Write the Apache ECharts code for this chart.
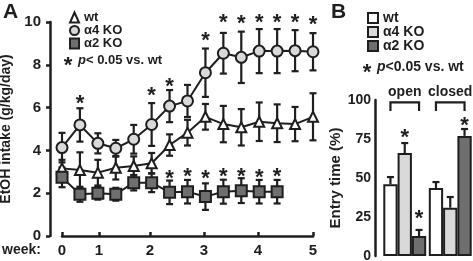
<!DOCTYPE html>
<html>
<head>
<meta charset="utf-8">
<script src="https://cdn.jsdelivr.net/npm/echarts@6/dist/echarts.min.js"></script>
<style>
  html, body { margin: 0; padding: 0; background: #fff; }
  #chart { width: 473px; height: 261px; }
</style>
</head>
<body>
<div id="chart"></div>
<script>
// panel A: sample index along x (0..14), week ticks sit at uneven index positions
const weekTickPos = [0, 2.06, 4.91, 7.92, 10.93, 14]
const weekLabels = ['0', '1', '2', '3', '4', '5']

const wtMean = [3.16, 3.08, 2.96, 3.19, 3.27, 3.40, 4.25, 4.83, 5.57, 5.23, 5.08, 5.34, 5.27, 5.23, 5.57]
const wtErr = [0.4, 0.83, 0.6, 0.55, 0.45, 0.48, 0.5, 0.6, 0.6, 0.85, 0.85, 0.9, 0.88, 0.8, 1.1]
const a4Mean = [4.13, 5.19, 4.33, 4.10, 4.52, 5.21, 6.07, 6.31, 7.63, 8.54, 8.35, 8.64, 8.64, 8.66, 8.61]
const a4Err = [0.69, 0.78, 0.47, 0.39, 0.67, 1.0, 0.75, 0.75, 1.13, 0.95, 1.2, 1.03, 1.03, 0.96, 0.87]
const a2Mean = [2.74, 1.95, 2.0, 1.95, 2.49, 2.49, 2.04, 2.07, 1.84, 2.07, 2.12, 2.07, 2.07]
const a2Err = [0.46, 0.35, 0.3, 0.3, 0.36, 0.44, 0.55, 0.55, 0.62, 0.56, 0.58, 0.55, 0.55]

// asterisks: [index, y]
const a4Stars = [[1, 6.45], [5, 6.82], [6, 7.26], [8, 9.39], [9, 10.23], [10, 10.19], [11, 10.23], [12, 10.23], [13, 10.23], [14, 10.14]]
const a2Stars = [[6, 2.93], [7, 3.05], [8, 2.96], [9, 3.05], [10, 3.05], [11, 3.0], [12, 3.05]]

// panel B
const zones = ['open', 'closed']
const wtEntry = [46, 43.6]
const wtEntryErr = [4.6, 3.8]
const a4Entry = [66, 31]
const a4EntryErr = [6.4, 6.8]
const a2Entry = [12.8, 77]
const a2EntryErr = [3.9, 4.4]
const entryStars = [[0, 1, 79.5], [0, 2, 27.6], [1, 2, 87]]  // [zone, group, y]

const FONT = '"Liberation Sans Narrow", "Liberation Sans", Arial, sans-serif'
const STAR_FONT = 'bold 22px "Liberation Sans", Arial, sans-serif'
const INK = '#1e1e1e'
const LIGHT = '#d9d9d9'
const DARK = '#6f6f6f'
const BAR_W = 14.3

const chart = echarts.init(document.getElementById('chart'), null, { renderer: 'canvas' })

const pts = (means) => means.map((m, i) => [i, m])
const errPts = (means, errs) => means.map((m, i) => [i, m, errs[i]])

function errorBarA(params, api) {
  const x = api.value(0), m = api.value(1), e = api.value(2)
  const top = api.coord([x, m + e])
  const bot = api.coord([x, m - e])
  const cap = 3.5
  const style = { stroke: INK, lineWidth: 2.2 }
  return {
    type: 'group',
    children: [
      { type: 'line', shape: { x1: top[0], y1: top[1], x2: bot[0], y2: bot[1] }, style },
      { type: 'line', shape: { x1: top[0] - cap, y1: top[1], x2: top[0] + cap, y2: top[1] }, style },
      { type: 'line', shape: { x1: bot[0] - cap, y1: bot[1], x2: bot[0] + cap, y2: bot[1] }, style }
    ]
  }
}

function starItem(params, api) {
  const p = api.coord([api.value(0), api.value(1)])
  return {
    type: 'text',
    x: p[0], y: p[1] + 6,
    style: { text: '*', fill: INK, font: STAR_FONT, align: 'center', verticalAlign: 'middle' }
  }
}

function barOffset(group) {
  return (group - 1) * BAR_W
}

function errorBarB(group) {
  return function (params, api) {
    const c = api.value(0), m = api.value(1), e = api.value(2)
    const base = api.coord([c, m])
    const top = api.coord([c, m + e])
    const x = base[0] + barOffset(group)
    const cap = 3.5
    const style = { stroke: INK, lineWidth: 2.2 }
    return {
      type: 'group',
      children: [
        { type: 'line', shape: { x1: x, y1: base[1], x2: x, y2: top[1] }, style },
        { type: 'line', shape: { x1: x - cap, y1: top[1], x2: x + cap, y2: top[1] }, style }
      ]
    }
  }
}

function starB(params, api) {
  const p = api.coord([api.value(0), api.value(2)])
  return {
    type: 'text',
    x: p[0] + barOffset(api.value(1)), y: p[1] + 6,
    style: { text: '*', fill: INK, font: STAR_FONT, align: 'center', verticalAlign: 'middle' }
  }
}

function bracketB(params, api) {
  const c = api.value(0)
  const mid = api.coord([c, 98.5])
  const low = api.coord([c, 93])
  const x1 = mid[0] + barOffset(0), x2 = mid[0] + barOffset(2)
  const style = { stroke: INK, lineWidth: 2.2, fill: null }
  return {
    type: 'group',
    children: [
      { type: 'polyline', shape: { points: [[x1, low[1]], [x1, mid[1]], [x2, mid[1]], [x2, low[1]]] }, style },
      {
        type: 'text', x: mid[0], y: mid[1] - 10,
        style: { text: zones[c], fill: INK, font: 'bold 14px ' + FONT, align: 'center', verticalAlign: 'middle' }
      }
    ]
  }
}

const tickText = { fontSize: 15, fontWeight: 'bold', fontFamily: FONT, color: INK }
const axisLine = { onZero: false, lineStyle: { color: INK, width: 2.5 } }

const option = {
  animation: false,
  textStyle: { fontFamily: FONT },
  grid: [
    { left: 62, top: 22, width: 251, height: 214, outerBoundsMode: 'none', containLabel: false },
    { left: 382, top: 100, width: 91, height: 156, outerBoundsMode: 'none', containLabel: false }
  ],
  xAxis: [
    {
      gridIndex: 0, type: 'value', min: 0, max: 14,
      axisLine,
      axisTick: { inside: true, length: 4, lineStyle: { color: INK, width: 2.5 }, customValues: weekTickPos },
      axisLabel: {
        ...tickText, margin: 7, customValues: weekTickPos,
        formatter: (v) => weekLabels[weekTickPos.findIndex(t => Math.abs(t - v) < 1e-6)]
      },
      splitLine: { show: false }
    },
    {
      gridIndex: 1, type: 'category', data: zones,
      axisLine: { show: false }, axisTick: { show: false }, axisLabel: { show: false }
    }
  ],
  yAxis: [
    {
      gridIndex: 0, type: 'value', min: 0, max: 10, interval: 2, offset: 12,
      name: 'EtOH intake (g/kg/day)', nameLocation: 'middle', nameGap: 28,
      nameTextStyle: { fontSize: 14, fontWeight: 'bold', fontFamily: FONT, color: INK },
      axisLine: { show: true, ...axisLine },
      axisTick: { length: 4, lineStyle: { color: INK, width: 2.5 } },
      axisLabel: { ...tickText, margin: 9 },
      splitLine: { show: false }
    },
    {
      gridIndex: 1, type: 'value', min: 0, max: 100, interval: 25, offset: 7,
      name: 'Entry time (%)', nameLocation: 'middle', nameGap: 22,
      nameTextStyle: { fontSize: 15, fontWeight: 'bold', fontFamily: FONT, color: INK },
      axisLine: { show: true, ...axisLine },
      axisTick: { length: 3, lineStyle: { color: INK, width: 2.5 } },
      axisLabel: { ...tickText, fontSize: 14, margin: 4 },
      splitLine: { show: false }
    }
  ],
  legend: [
    {
      orient: 'vertical', left: 64, top: 6, itemWidth: 9, itemHeight: 10, itemGap: 0, itemTextGap: 5,
      selectedMode: false,
      textStyle: { fontSize: 13, fontWeight: 'bold', fontFamily: FONT, color: INK },
      data: [
        { name: 'wt', icon: 'triangle', itemStyle: { color: '#fff', borderColor: INK, borderWidth: 2 } },
        { name: 'α4 KO', icon: 'circle', itemStyle: { color: LIGHT, borderColor: INK, borderWidth: 2 } },
        { name: 'α2 KO', icon: 'rect', itemStyle: { color: DARK, borderColor: INK, borderWidth: 2 } }
      ]
    },
    {
      orient: 'vertical', left: 362, top: 6, itemWidth: 10, itemHeight: 10, itemGap: 0, itemTextGap: 4,
      selectedMode: false,
      formatter: (name) => name.replace(' (B)', ''),
      textStyle: { fontSize: 14, fontWeight: 'bold', fontFamily: FONT, color: INK },
      data: [
        { name: 'wt (B)', icon: 'rect', itemStyle: { color: '#fff', borderColor: INK, borderWidth: 2 } },
        { name: 'α4 KO (B)', icon: 'rect', itemStyle: { color: LIGHT, borderColor: INK, borderWidth: 2 } },
        { name: 'α2 KO (B)', icon: 'rect', itemStyle: { color: DARK, borderColor: INK, borderWidth: 2 } }
      ]
    }
  ],
  graphic: [
    { type: 'text', left: 3, top: 2, style: { text: 'A', font: 'bold 21px "Liberation Sans", Arial, sans-serif', fill: INK } },
    { type: 'text', left: 331, top: 2, style: { text: 'B', font: 'bold 21px "Liberation Sans", Arial, sans-serif', fill: INK } },
    { type: 'text', left: 2, top: 243, style: { text: 'week:', font: 'bold 14px ' + FONT, fill: INK } },
    // significance key, panel A
    { type: 'text', x: 68, y: 66, style: { text: '*', font: STAR_FONT, fill: INK, align: 'center', verticalAlign: 'middle' } },
    {
      type: 'text', x: 78, y: 60,
      style: {
        text: '{i|p}{t|< 0.05 vs. wt}', verticalAlign: 'middle',
        rich: {
          i: { font: 'italic bold 13px ' + FONT, fill: INK },
          t: { font: 'bold 13px ' + FONT, fill: INK }
        }
      }
    },
    // significance key, panel B
    { type: 'text', x: 367, y: 73, style: { text: '*', font: STAR_FONT, fill: INK, align: 'center', verticalAlign: 'middle' } },
    {
      type: 'text', x: 377, y: 67,
      style: {
        text: '{i|p}{t|<0.05 vs. wt}', verticalAlign: 'middle',
        rich: {
          i: { font: 'italic bold 14px ' + FONT, fill: INK },
          t: { font: 'bold 14px ' + FONT, fill: INK }
        }
      }
    }
  ],
  series: [
    // panel A error bars
    { type: 'custom', xAxisIndex: 0, yAxisIndex: 0, renderItem: errorBarA, data: errPts(wtMean, wtErr), z: 2, silent: true },
    { type: 'custom', xAxisIndex: 0, yAxisIndex: 0, renderItem: errorBarA, data: errPts(a2Mean, a2Err), z: 2, silent: true },
    { type: 'custom', xAxisIndex: 0, yAxisIndex: 0, renderItem: errorBarA, data: errPts(a4Mean, a4Err), z: 2, silent: true },
    {
      name: 'wt', type: 'line', xAxisIndex: 0, yAxisIndex: 0, data: pts(wtMean), z: 3,
      symbol: 'triangle', symbolSize: 10,
      lineStyle: { color: INK, width: 2 },
      itemStyle: { color: '#fff', borderColor: INK, borderWidth: 2 }
    },
    {
      name: 'α2 KO', type: 'line', xAxisIndex: 0, yAxisIndex: 0, data: pts(a2Mean), z: 3,
      symbol: 'rect', symbolSize: 11,
      lineStyle: { color: INK, width: 2 },
      itemStyle: { color: DARK, borderColor: INK, borderWidth: 2 }
    },
    {
      name: 'α4 KO', type: 'line', xAxisIndex: 0, yAxisIndex: 0, data: pts(a4Mean), z: 4,
      symbol: 'circle', symbolSize: 11,
      lineStyle: { color: INK, width: 2 },
      itemStyle: { color: LIGHT, borderColor: INK, borderWidth: 2 }
    },
    { type: 'custom', xAxisIndex: 0, yAxisIndex: 0, renderItem: starItem, data: a4Stars, clip: false, z: 5, silent: true },
    { type: 'custom', xAxisIndex: 0, yAxisIndex: 0, renderItem: starItem, data: a2Stars, clip: false, z: 5, silent: true },

    // panel B
    {
      name: 'wt (B)', type: 'bar', xAxisIndex: 1, yAxisIndex: 1, data: wtEntry, barWidth: BAR_W, barGap: '0%',
      itemStyle: { color: '#fff', borderColor: INK, borderWidth: 2 }
    },
    {
      name: 'α4 KO (B)', type: 'bar', xAxisIndex: 1, yAxisIndex: 1, data: a4Entry, barWidth: BAR_W, barGap: '0%',
      itemStyle: { color: LIGHT, borderColor: INK, borderWidth: 2 }
    },
    {
      name: 'α2 KO (B)', type: 'bar', xAxisIndex: 1, yAxisIndex: 1, data: a2Entry, barWidth: BAR_W, barGap: '0%',
      itemStyle: { color: DARK, borderColor: INK, borderWidth: 2 }
    },
    { type: 'custom', xAxisIndex: 1, yAxisIndex: 1, renderItem: errorBarB(0), data: zones.map((z, i) => [i, wtEntry[i], wtEntryErr[i]]), z: 3, silent: true },
    { type: 'custom', xAxisIndex: 1, yAxisIndex: 1, renderItem: errorBarB(1), data: zones.map((z, i) => [i, a4Entry[i], a4EntryErr[i]]), z: 3, silent: true },
    { type: 'custom', xAxisIndex: 1, yAxisIndex: 1, renderItem: errorBarB(2), data: zones.map((z, i) => [i, a2Entry[i], a2EntryErr[i]]), z: 3, silent: true },
    { type: 'custom', xAxisIndex: 1, yAxisIndex: 1, renderItem: starB, data: entryStars, clip: false, z: 5, silent: true },
    { type: 'custom', xAxisIndex: 1, yAxisIndex: 1, renderItem: bracketB, data: zones.map((z, i) => [i]), clip: false, z: 5, silent: true }
  ]
}

chart.setOption(option)
</script>
</body>
</html>
